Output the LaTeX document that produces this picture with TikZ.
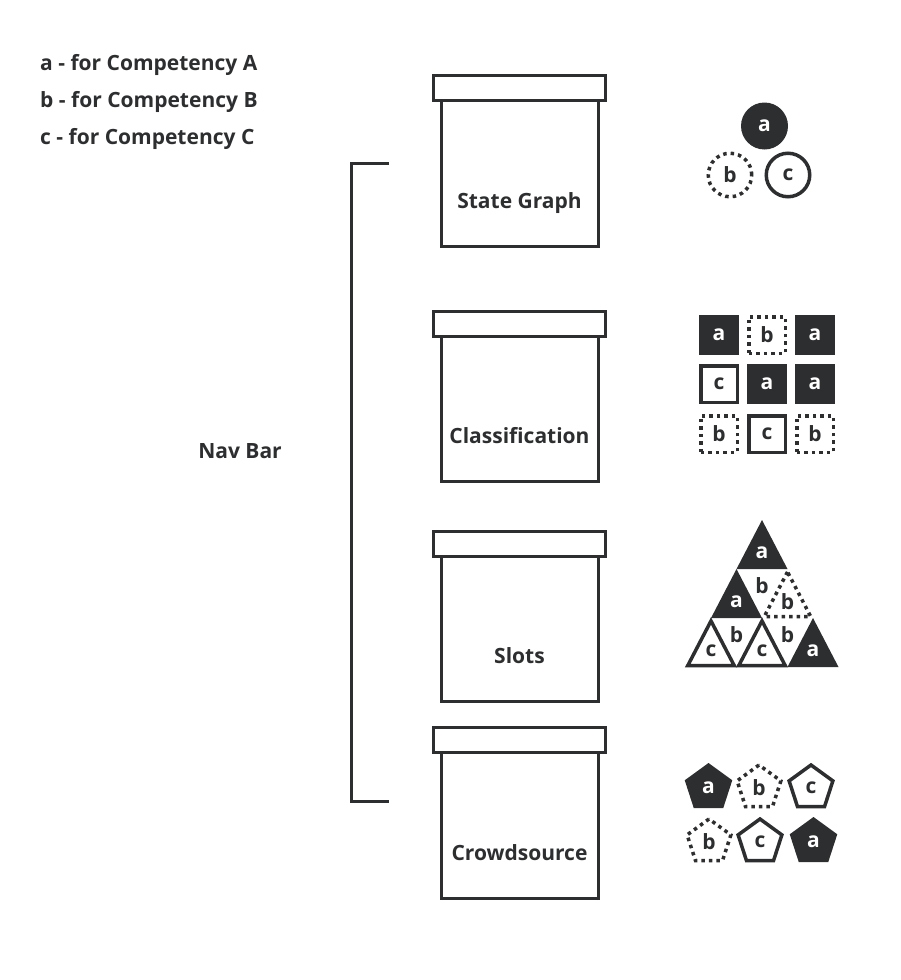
\documentclass[tikz,border=0pt]{standalone}
\usepackage{fontspec}
\setmainfont{Open Sans}
\usetikzlibrary{shapes.geometric,calc}
\definecolor{ink}{HTML}{2D2E30}
\begin{document}
\begin{tikzpicture}[x=1pt,y=-1pt,
  every node/.style={font=\fontsize{21}{24}\selectfont\bfseries, text=ink},
  lid/.style={draw=ink, line width=3pt, fill=white, minimum width=172pt, minimum height=25pt, inner sep=0pt},
  body/.style={draw=ink, line width=3pt, minimum width=157pt, minimum height=146pt, inner sep=0pt},
  boxtext/.style={inner sep=0pt, anchor=base},
  legend/.style={anchor=base west, inner sep=0pt},
  bracket/.style={draw=ink, line width=3pt},
  fl/.style={fill=ink, text=white, inner sep=0pt},
  sol/.style={draw=ink, line width=3.5pt, inner sep=0pt},
  dotb/.style={draw=ink, line width=3.5pt, dash pattern=on 3.5pt off 4pt, inner sep=0pt},
  fcirc/.style={fl, circle, minimum size=47pt},
  ocirc/.style={sol, circle, minimum size=43.5pt},
  dcirc/.style={dotb, circle, minimum size=43.5pt},
  fsq/.style={fl, rectangle, minimum size=40pt},
  osq/.style={sol, rectangle, minimum size=36.5pt},
  dsq/.style={dotb, rectangle, minimum size=36.5pt},
  fpent/.style={fl, regular polygon, regular polygon sides=5, minimum size=50pt},
  opent/.style={sol, regular polygon, regular polygon sides=5, minimum size=46pt},
  dpent/.style={dotb, regular polygon, regular polygon sides=5, minimum size=46pt},
  tlab/.style={inner sep=0pt},
  ftri/.style={fill=ink},
  otri/.style={draw=ink, line width=3.5pt, line join=miter},
  dtri/.style={draw=ink, line width=3.5pt, dash pattern=on 3.5pt off 4pt}
]
\useasboundingbox (0,0) rectangle (900,980);

% legend
\node[legend] (la) at (40,70) {a - for Competency A};
\node[legend] (lb) at (40,107) {b - for Competency B};
\node[legend] (lc) at (40,144) {c - for Competency C};

% bracket
\coordinate (bt) at (389,163);
\coordinate (bb) at (389,801);
\coordinate (bt2) at (351,163);
\coordinate (bb2) at (351,801);
\draw[bracket] (bt) -- (bt2) -- (bb2) -- (bb);
\node[anchor=base, inner sep=0pt] (nav) at (240,458) {Nav Bar};

% boxes
\foreach \nm/\off/\txt in {sg/0/State Graph, cl/235.5/Classification, sl/455.5/Slots, cs/652/Crowdsource}{
  \node[body] (\nm-body) at (520,173+\off) {};
  \node[lid] (\nm-lid) at (519.5,88+\off) {};
  \node[boxtext] (\nm-text) at (519.5,208+\off) {\txt};
}

% circles
\node[fcirc] (c1) at (764.5,126) {a};
\node[dcirc] (c2) at (730,175) {b};
\node[ocirc] (c3) at (788,175) {c};

% squares
\node[fsq] (s11) at (719,335) {a};
\node[dsq] (s12) at (767,335) {b};
\node[fsq] (s13) at (815,335) {a};
\node[osq] (s21) at (719,384) {c};
\node[fsq] (s22) at (767,384) {a};
\node[fsq] (s23) at (815,384) {a};
\node[dsq] (s31) at (719,434) {b};
\node[osq] (s32) at (767,434) {c};
\node[dsq] (s33) at (815,434) {b};

% triangles lattice
\coordinate (p00) at (762,520);
\coordinate (p10) at (736.5,569);
\coordinate (p11) at (787.5,569);
\coordinate (p20) at (711,618);
\coordinate (p21) at (762,618);
\coordinate (p22) at (813,618);
\coordinate (p30) at (685.5,667);
\coordinate (p31) at (736.5,667);
\coordinate (p32) at (787.5,667);
\coordinate (p33) at (838.5,667);

\fill[ftri] (p00) -- (p10) -- (p11) -- cycle;
\fill[ftri] (p10) -- (p20) -- (p21) -- cycle;
\fill[ftri] (p22) -- (p32) -- (p33) -- cycle;
\coordinate (g1) at ($1/3*(p11)+1/3*(p21)+1/3*(p22)$);
\draw[dtri] ($(p11)!0.09!(g1)$) -- ($(p21)!0.09!(g1)$) -- ($(p22)!0.09!(g1)$) -- cycle;
\coordinate (g2) at ($1/3*(p20)+1/3*(p30)+1/3*(p31)$);
\draw[otri] ($(p20)!0.09!(g2)$) -- ($(p30)!0.09!(g2)$) -- ($(p31)!0.09!(g2)$) -- cycle;
\coordinate (g3) at ($1/3*(p21)+1/3*(p31)+1/3*(p32)$);
\draw[otri] ($(p21)!0.09!(g3)$) -- ($(p31)!0.09!(g3)$) -- ($(p32)!0.09!(g3)$) -- cycle;

\node[tlab, text=white] (t1) at (762,552.7) {a};
\node[tlab, text=white] (t2) at (736.5,601.7) {a};
\node[tlab] (t3) at (787.5,601.7) {b};
\node[tlab] (t4) at (762,585.3) {b};
\node[tlab] (t5) at (711,650.7) {c};
\node[tlab] (t6) at (736.5,634.3) {b};
\node[tlab] (t7) at (762,650.7) {c};
\node[tlab] (t8) at (787.5,634.3) {b};
\node[tlab, text=white] (t9) at (813,650.7) {a};

% pentagons
\node[fpent] (q11) at (708.5,788) {a};
\node[dpent] (q12) at (759,788) {b};
\node[opent] (q13) at (811,788) {c};
\node[dpent] (q21) at (709,842) {b};
\node[opent] (q22) at (760,842) {c};
\node[fpent] (q23) at (813.5,842) {a};
\end{tikzpicture}
\end{document}
